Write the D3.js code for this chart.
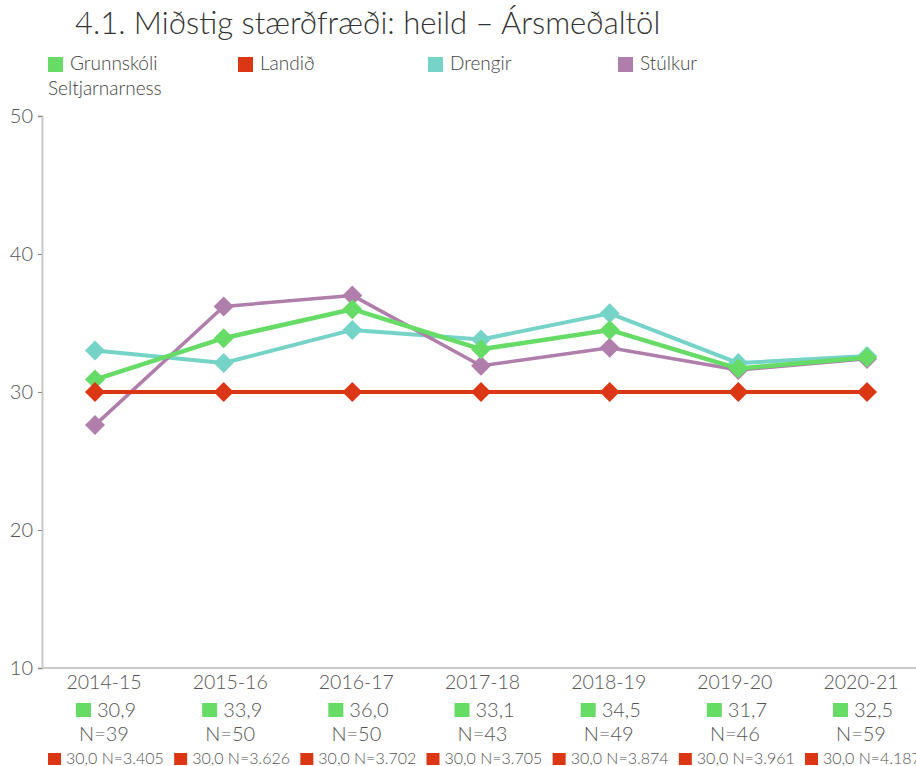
<!DOCTYPE html>
<html>
<head>
<meta charset="utf-8">
<script src="https://cdn.jsdelivr.net/npm/d3@7"></script>
<style>
  html, body { margin: 0; padding: 0; background: #fff; }
  svg { display: block; font-family: Lato, "Open Sans", sans-serif; font-weight: 300; }
</style>
</head>
<body>
<svg id="chart" width="916" height="766"></svg>
<script>
// School years on the x axis
const years = ["2014-15", "2015-16", "2016-17", "2017-18", "2018-19", "2019-20", "2020-21"];

// Yearly averages per series
const grunnskoli = [30.9, 33.9, 36.0, 33.1, 34.5, 31.7, 32.5];
const landid     = [30.0, 30.0, 30.0, 30.0, 30.0, 30.0, 30.0];
const drengir    = [33.0, 32.1, 34.5, 33.8, 35.7, 32.1, 32.6];
const stulkur    = [27.6, 36.2, 37.0, 31.9, 33.2, 31.6, 32.4];

// Number of students behind each average
const nSchool = [39, 50, 50, 43, 49, 46, 59];
const nLand   = ["3.405", "3.626", "3.702", "3.705", "3.874", "3.961", "4.187"];

const yTicks = [10, 20, 30, 40, 50];

const series = [
  { name: "Drengir",    values: drengir,    color: "#75d3c7", width: 4 },
  { name: "Stúlkur",    values: stulkur,    color: "#b07eab", width: 3.5 },
  { name: "Grunnskóli", values: grunnskoli, color: "#66dc66", width: 4.5 },
  { name: "Landið",     values: landid,     color: "#dc3714", width: 4 }
];

const fmt = v => d3.format(".1f")(v).replace(".", ",");

const svg = d3.select("#chart");

// plot positions and the slightly narrower category-label row
const x = d3.scalePoint().domain(years).range([95, 867]);
const xLabel = d3.scalePoint().domain(years).range([104, 861]);
const y = d3.scaleLinear().domain([10, 50]).range([668, 116]);

// Title
svg.append("text")
  .attr("x", 75).attr("y", 34)
  .attr("font-size", 31).attr("font-weight", 300)
  .attr("fill", "#333")
  .text("4.1. Miðstig stærðfræði: heild – Ársmeðaltöl");

// Legend
const legend = [
  { label: ["Grunnskóli", "Seltjarnarness"], color: "#66dc66", x: 48 },
  { label: ["Landið"], color: "#dc3714", x: 238 },
  { label: ["Drengir"], color: "#75d3c7", x: 428 },
  { label: ["Stúlkur"], color: "#b07eab", x: 618 }
];
legend.forEach(l => {
  svg.append("rect").attr("x", l.x).attr("y", 57).attr("width", 15).attr("height", 15).attr("fill", l.color);
  const t = svg.append("text").attr("font-size", 19).attr("fill", "#444");
  l.label.forEach((s, i) => {
    t.append("tspan")
      .attr("x", i === 0 ? l.x + 22 : l.x)
      .attr("y", 70 + i * 25)
      .text(s);
  });
});

// Y axis
const yAxis = svg.append("g").attr("transform", "translate(42,0)")
  .call(d3.axisLeft(y).tickValues(yTicks).tickSize(4).tickPadding(5));
yAxis.select(".domain").attr("stroke", "#c8c8c8").attr("stroke-width", 2);
yAxis.selectAll(".tick line").attr("stroke", "#888");
yAxis.selectAll(".tick text").attr("font-size", 20).attr("fill", "#555")
  .attr("font-family", "Lato, sans-serif").attr("font-weight", 300);

// X baseline
svg.append("line")
  .attr("x1", 42).attr("x2", 916)
  .attr("y1", y(10)).attr("y2", y(10))
  .attr("stroke", "#c8c8c8").attr("stroke-width", 2);

// Lines and diamond markers
const line = d3.line().x((d, i) => x(years[i])).y(d => y(d));
const diamond = d3.symbol().type(d3.symbolSquare).size(200);

series.forEach(s => {
  svg.append("path")
    .attr("d", line(s.values))
    .attr("fill", "none")
    .attr("stroke", s.color)
    .attr("stroke-width", s.width)
    .attr("stroke-linejoin", "round");
  svg.append("g").selectAll("path")
    .data(s.values)
    .join("path")
    .attr("d", diamond)
    .attr("transform", (d, i) => `translate(${x(years[i])},${y(d)}) rotate(45)`)
    .attr("fill", s.color);
});

// Category labels with values and counts
const cat = svg.append("g");
years.forEach((yr, i) => {
  const cx = xLabel(yr);
  cat.append("text")
    .attr("x", cx).attr("y", 689)
    .attr("text-anchor", "middle")
    .attr("font-size", 19.5).attr("fill", "#555")
    .text(yr);

  // school average row
  cat.append("rect").attr("x", cx - 28).attr("y", 703).attr("width", 15).attr("height", 14).attr("fill", "#66dc66");
  cat.append("text")
    .attr("x", cx - 7).attr("y", 717)
    .attr("font-size", 20).attr("fill", "#555")
    .text(fmt(grunnskoli[i]));

  // school N row
  cat.append("text")
    .attr("x", cx).attr("y", 741)
    .attr("text-anchor", "middle")
    .attr("font-size", 20).attr("fill", "#555")
    .text("N=" + nSchool[i]);

  // national row
  cat.append("rect").attr("x", cx - 56).attr("y", 753).attr("width", 13).attr("height", 12).attr("fill", "#dc3714");
  cat.append("text")
    .attr("x", cx - 38).attr("y", 764)
    .attr("font-size", 16).attr("fill", "#555")
    .text(fmt(landid[i]) + " N=" + nLand[i]);
});
</script>
</body>
</html>
